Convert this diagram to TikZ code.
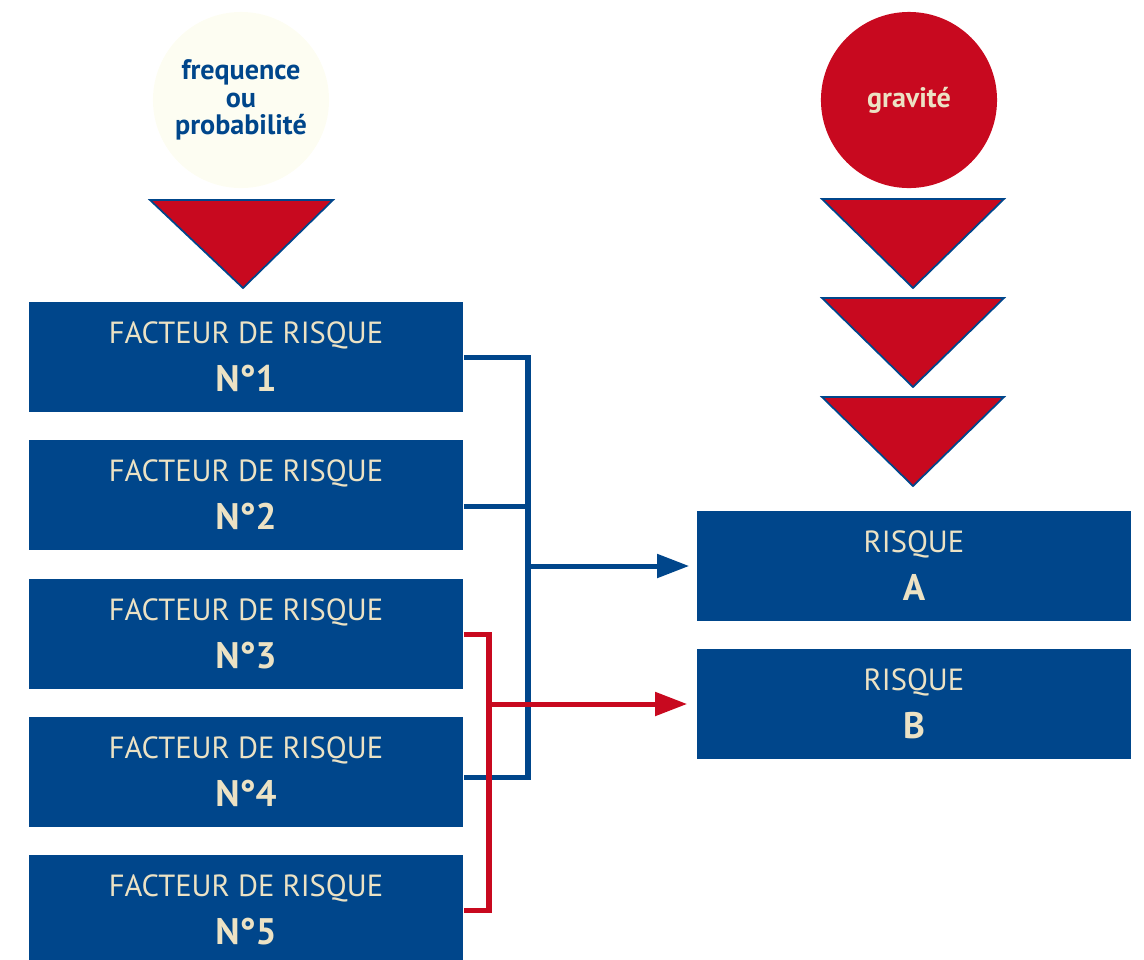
\documentclass[tikz,border=0pt]{standalone}
\usepackage{fontspec}
\setmainfont{PT Sans}
\usepackage{tikz}
\usetikzlibrary{arrows.meta, calc, positioning}

\definecolor{bleu}{RGB}{0,70,139}
\definecolor{rouge}{RGB}{200,9,31}
\definecolor{creme}{RGB}{236,226,196}
\definecolor{pale}{RGB}{253,253,242}

\tikzset{
    facteur/.style={fill=bleu, text=creme, minimum width=4.34cm, minimum height=1.1cm,
        inner sep=0pt, align=center, font=\fontsize{8.7}{13.6}\selectfont},
    rond/.style={circle, minimum size=1.76cm, inner sep=0pt, align=center,
        font=\fontsize{8}{7.8}\selectfont\bfseries},
    pointe/.style={fill=rouge, draw=bleu, line width=0.5pt},
    lien/.style={line width=0.05cm}
}

\begin{document}
\begin{tikzpicture}[x=0.01cm, y=-0.01cm, >={Triangle[length=0.32cm, width=0.23cm]}]
        \useasboundingbox (0,0) rectangle (1144,960);
        \clip (0,0) rectangle (1144,960);

        % les deux cercles
        \node[rond, fill=pale, text=bleu] (freq) at (241,100) {frequence\\ou\\probabilité};
        \node[rond, fill=rouge, text=creme] (grav) at (909,100) {gravité};

        % les triangles
        \draw[pointe] (150,200) -- (333,200) -- (243,288) -- cycle;
        \foreach \y in {199,298,397}
            \draw[pointe] (822,\y) -- (1004,\y) -- (913,\y+89) -- cycle;

        % facteurs de risque
        \foreach \i/\y in {1/357,2/495,3/634,4/772,5/910}
            \node[facteur] (f\i) at (246,\y) {FACTEUR DE RISQUE\\{\fontsize{10.5}{13.6}\selectfont\bfseries N°\i}};

        % risques
        \node[facteur] (ra) at (914,566) {RISQUE\\{\fontsize{10.5}{13.6}\selectfont\bfseries A}};
        \node[facteur] (rb) at (914,704) {RISQUE\\{\fontsize{10.5}{13.6}\selectfont\bfseries B}};

        % liaisons bleues
        \coordinate (jb) at (528,566);
        \coordinate (f2b) at ([yshift=-0.11cm]f2.east);
        \coordinate (f4b) at ([yshift=-0.05cm]f4.east);
        \draw[lien, bleu] (f1.east) -| (jb |- f4b) -- (f4b);
        \draw[lien, bleu] (f2b) -- (f2b -| jb);
        \draw[lien, bleu, ->] (jb) -- ([xshift=-0.07cm]ra.west);

        % liaisons rouges
        \coordinate (jr) at (489,704);
        \draw[lien, rouge] (f3.east) -| (jr |- f5.east) -- (f5.east);
        \draw[lien, rouge, ->] (jr) -- ([xshift=-0.09cm]rb.west);
    \end{tikzpicture}
\end{document}
